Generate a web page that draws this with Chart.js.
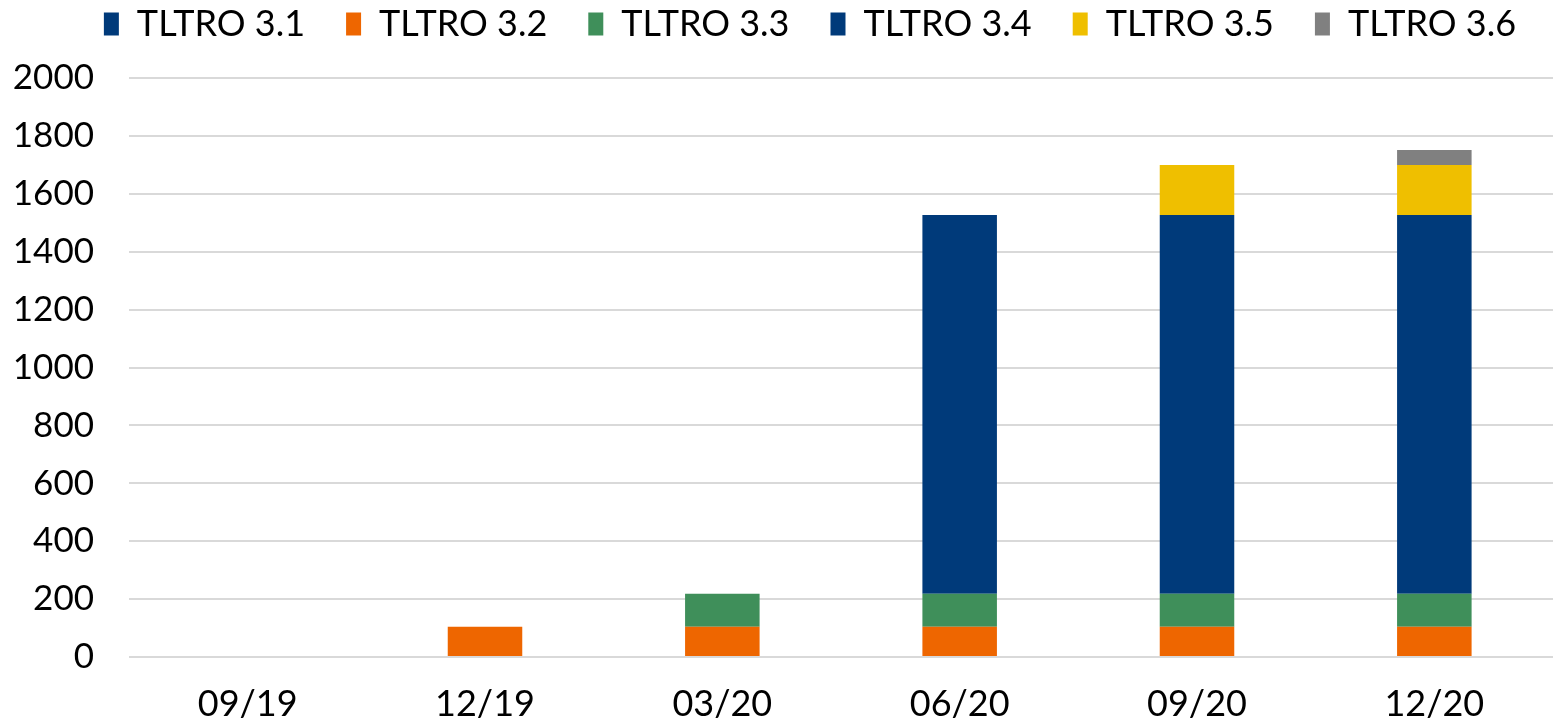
<!DOCTYPE html>
<html>
<head>
<meta charset="utf-8">
<script src="https://cdn.jsdelivr.net/npm/chart.js@4"></script>
<style>
  html, body { margin: 0; padding: 0; background: #fff; }
  #wrap { width: 1553px; height: 723px; }
</style>
</head>
<body>
<div id="wrap"><canvas id="chart"></canvas></div>
<script>
// Quarters (end of period)
const labels = ['09/19', '12/19', '03/20', '06/20', '09/20', '12/20'];

// Outstanding amounts per operation
const tltro31 = [3.4, 3.4, 3.4, 3.4, 3.4, 3.4];
const tltro32 = [0, 101, 101, 101, 101, 101];
const tltro33 = [0, 0, 114, 114, 114, 114];
const tltro34 = [0, 0, 0, 1308, 1308, 1308];
const tltro35 = [0, 0, 0, 0, 173, 173];
const tltro36 = [0, 0, 0, 0, 0, 52];

const yTicks = [0, 200, 400, 600, 800, 1000, 1200, 1400, 1600, 1800, 2000];

const font = "Lato, 'Open Sans', sans-serif";

const ds = (label, data, color) => ({
    label: label,
    data: data,
    backgroundColor: color,
    borderWidth: 0,
    barPercentage: 0.314,
    categoryPercentage: 1
});

// legend in the original sits a bit right of centre
const legendShift = {
    id: 'legendShift',
    afterLayout(chart) {
        chart.legend.left += 21;
        chart.legend.right += 21;
    }
};

new Chart(document.getElementById('chart'), {
    type: 'bar',
    data: {
        labels: labels,
        datasets: [
            ds('TLTRO 3.1', tltro31, '#003A7A'),
            ds('TLTRO 3.2', tltro32, '#EE6600'),
            ds('TLTRO 3.3', tltro33, '#3F8F5A'),
            ds('TLTRO 3.4', tltro34, '#003A7A'),
            ds('TLTRO 3.5', tltro35, '#EFBF00'),
            ds('TLTRO 3.6', tltro36, '#808080')
        ]
    },
    plugins: [legendShift],
    options: {
        responsive: true,
        maintainAspectRatio: false,
        animation: false,
        // negative top pad: the wide legend padding would otherwise push everything down
        // plot area runs a few px past the right edge, as in the original crop
        layout: { padding: { left: 12, right: -13, top: -35, bottom: 0 } },
        plugins: {
            tooltip: { enabled: false },
            legend: {
                position: 'top',
                weight: 3000,
                labels: {
                    color: '#000',
                    font: { family: font, size: 36 },
                    boxWidth: 15,
                    boxHeight: 23,
                    padding: 41
                }
            },
            // empty title only used as a spacer under the legend
            title: {
                display: true,
                text: ' ',
                padding: 0,
                font: { size: 20, lineHeight: 1.3 }
            }
        },
        scales: {
            x: {
                stacked: true,
                grid: { display: false },
                border: { display: false },
                afterFit: s => { s.height = 66; },
                ticks: { color: '#000', font: { family: font, size: 36 }, padding: 18 }
            },
            y: {
                stacked: true,
                min: 0,
                max: 2000,
                afterBuildTicks: axis => { axis.ticks = yTicks.map(v => ({ value: v })); },
                afterFit: s => { s.width = 117; },
                grid: { color: '#d9d9d9', lineWidth: 2, drawTicks: false },
                border: { display: false },
                ticks: {
                    color: '#000',
                    font: { family: font, size: 35 },
                    padding: 35,
                    callback: v => String(v)
                }
            }
        }
    }
});
</script>
</body>
</html>
